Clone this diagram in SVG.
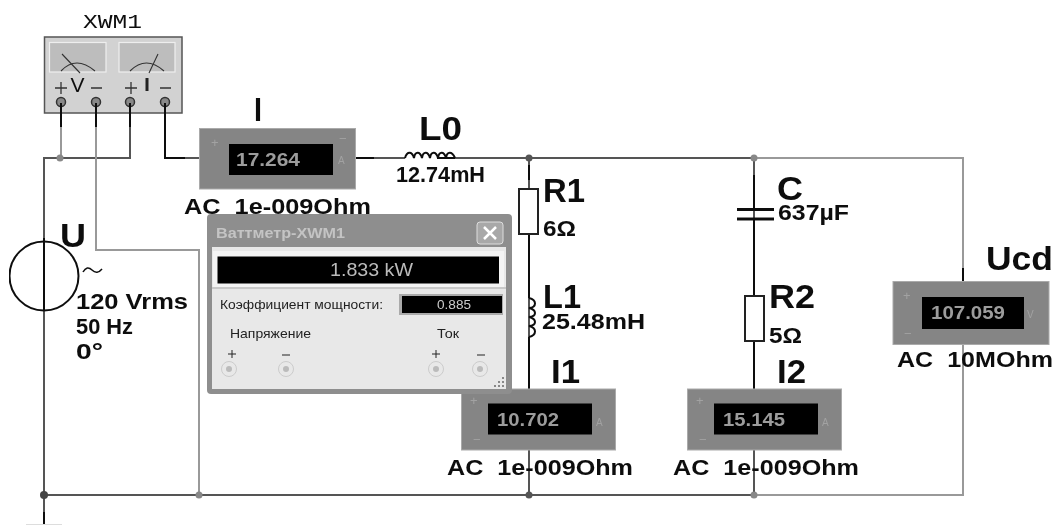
<svg xmlns="http://www.w3.org/2000/svg" width="1058" height="525" viewBox="0 0 1058 525">
<style>
text{font-family:"Liberation Sans",Arial,sans-serif;fill:#111;white-space:pre}
.w{fill:none;stroke:#555;stroke-width:2}
.k{fill:none;stroke:#111;stroke-width:2}
.g{fill:none;stroke:#999;stroke-width:2}
.b{font-weight:bold;font-size:21.500px}
.n{font-weight:bold;font-size:33px}
.m{fill:#858585;stroke:#aaa;stroke-width:1}
.d{fill:#000}
.v{font-size:18.500px;fill:#9c9c9c;font-weight:bold}
.s{font-size:13px;fill:#a2a2a2}
.u{font-size:13.500px;fill:#222}
</style>
<defs><filter id="soft" x="0" y="0" width="100%" height="100%"><feGaussianBlur stdDeviation="0.45"/></filter></defs>
<rect width="1058" height="525" fill="#fff"/>
<g filter="url(#soft)">
<g id="XWM1">
<text x="83" y="28" textLength="59" lengthAdjust="spacingAndGlyphs" style="font-family:'Liberation Mono',monospace;font-size:20px">XWM1</text>
<rect x="44.500" y="37" width="137.500" height="76" fill="#d2d2d2" stroke="#555" stroke-width="1.500"/>
<rect x="49.500" y="42.500" width="56.500" height="29.500" fill="#bdbdbd" stroke="#eee" stroke-width="1.200"/>
<rect x="119" y="42.500" width="56" height="29.500" fill="#bdbdbd" stroke="#eee" stroke-width="1.200"/>
<path d="M61 71Q76 55 95 71M130 71Q146 55 164 71M62 54L80 73M158 54L149 73" fill="none" stroke="#333" stroke-width="1.100"/>
<text x="77.500" y="92" text-anchor="middle" style="font-size:21px">V</text>
<path d="M55 88H67M61 82V94M91 88H102M160 88H171M125 88H137M131 82V94" stroke="#333" stroke-width="1.300"/>
<path d="M147 78V91" stroke="#222" stroke-width="3"/>
<g fill="#888" stroke="#333" stroke-width="1.500"><circle cx="61" cy="102" r="4.500"/><circle cx="96" cy="102" r="4.500"/><circle cx="130" cy="102" r="4.500"/><circle cx="165" cy="102" r="4.500"/></g>
</g>
<g id="connectors">
<path class="w" d="M60 158H44V495M130 127V158H60M44 495H752M44 495V512M165 127V158H199M356 158H405M455 158H752M529 158V389M529 450V495M754 158V389M754 450V495"/>
<path class="k" d="M61 103V127M96 103V127M130 103V127M165 103V158H185M44 238V250M356 158H374M529 165V180M529 235V298M529 337V389M754 175V210M754 219V296M754 341V389M963 268V282M44 512V525M437 158H455"/>
<path class="g" d="M61 127V158M96 127V250H199V495M752 158H963V268M963 345V495H752"/>
<path d="M26 524.500H62" stroke="#ddd" stroke-width="1"/>
<circle cx="60" cy="158" r="3.500" fill="#888"/>
<circle cx="44" cy="495" r="4" fill="#444"/>
<circle cx="199" cy="495" r="3.500" fill="#888"/>
<circle cx="529" cy="158" r="3.500" fill="#555"/>
<circle cx="754" cy="158" r="3.500" fill="#888"/>
<circle cx="529" cy="495" r="3.500" fill="#555"/>
<circle cx="754" cy="495" r="3.500" fill="#888"/>
</g>
<g id="I">
<rect class="m" x="199.500" y="128.500" width="156" height="60.500"/>
<rect class="d" x="229" y="144" width="104" height="31"/>
<text class="v" x="236" y="166" textLength="64" lengthAdjust="spacingAndGlyphs">17.264</text>
<text class="s" x="211" y="147">+</text><text class="s" x="339" y="143">−</text><text class="s" x="338" y="164" style="font-size:10px">A</text>
<text class="n" x="254" y="121" textLength="8" lengthAdjust="spacingAndGlyphs">I</text>
<text class="b" x="184" y="214" textLength="187" lengthAdjust="spacingAndGlyphs">AC  1e-009Ohm</text>
</g>
<g id="L0">
<path class="k" d="M405 158C407 151 412 151 414 158C415 151 420 151 422 158C423 151 428 151 430 158C431 151 436 151 438 158C439 151 444 151 446 158C447 151 452 151 455 158" stroke-width="1.500"/>
<text class="n" x="419" y="140" textLength="43" lengthAdjust="spacingAndGlyphs">L0</text>
<text class="b" x="396" y="182" textLength="89" lengthAdjust="spacingAndGlyphs">12.74mH</text>
</g>
<g id="U">
<circle cx="44" cy="276" r="34.500" fill="#fff" stroke="#111" stroke-width="2"/>
<path class="k" d="M44 241V311" stroke-width="2"/>
<path d="M83 272Q87 265 92 270T102 269" fill="none" stroke="#111" stroke-width="1.500"/>
<text class="n" x="60" y="247" textLength="26" lengthAdjust="spacingAndGlyphs">U</text>
<text class="b" x="76" y="309" textLength="112" lengthAdjust="spacingAndGlyphs">120 Vrms</text>
<text class="b" x="76" y="334" textLength="57" lengthAdjust="spacingAndGlyphs">50 Hz</text>
<text class="b" x="76" y="359" textLength="27" lengthAdjust="spacingAndGlyphs">0°</text>
</g>
<g id="R1">
<rect x="519" y="189" width="19" height="45" fill="#fff" stroke="#222" stroke-width="2"/>
<text class="n" x="543" y="202" textLength="42" lengthAdjust="spacingAndGlyphs">R1</text>
<text class="b" x="543" y="236" textLength="33" lengthAdjust="spacingAndGlyphs">6Ω</text>
</g>
<g id="L1">
<path class="k" stroke-width="1.500" d="M529 298C537 300 537 307 529 308C537 310 537 316 529 317C537 319 537 325 529 326C537 328 537 335 529 337"/>
<text class="n" x="543" y="308" textLength="38" lengthAdjust="spacingAndGlyphs">L1</text>
<text class="b" x="542" y="329" textLength="103" lengthAdjust="spacingAndGlyphs">25.48mH</text>
</g>
<g id="C">
<path d="M737 209.500H774M737 219H774" stroke="#111" stroke-width="3"/>
<text class="n" x="777" y="200" textLength="26" lengthAdjust="spacingAndGlyphs">C</text>
<text class="b" x="778" y="220" textLength="71" lengthAdjust="spacingAndGlyphs">637µF</text>
</g>
<g id="R2">
<rect x="745" y="296" width="19" height="45" fill="#fff" stroke="#222" stroke-width="2"/>
<text class="n" x="769" y="308" textLength="46" lengthAdjust="spacingAndGlyphs">R2</text>
<text class="b" x="769" y="343" textLength="33" lengthAdjust="spacingAndGlyphs">5Ω</text>
</g>
<g id="I1">
<rect class="m" x="461.500" y="389" width="154" height="61"/>
<rect class="d" x="488" y="403.500" width="104" height="31"/>
<text class="v" x="497" y="426" textLength="62" lengthAdjust="spacingAndGlyphs">10.702</text>
<text class="s" x="470" y="405">+</text><text class="s" x="473" y="444">−</text><text class="s" x="596" y="426" style="font-size:10px">A</text>
<text class="n" x="551" y="383" textLength="29" lengthAdjust="spacingAndGlyphs">I1</text>
<text class="b" x="447" y="475" textLength="186" lengthAdjust="spacingAndGlyphs">AC  1e-009Ohm</text>
</g>
<g id="I2">
<rect class="m" x="687.500" y="389" width="154" height="61"/>
<rect class="d" x="714" y="403.500" width="104" height="31"/>
<text class="v" x="723" y="426" textLength="62" lengthAdjust="spacingAndGlyphs">15.145</text>
<text class="s" x="696" y="405">+</text><text class="s" x="699" y="444">−</text><text class="s" x="822" y="426" style="font-size:10px">A</text>
<text class="n" x="777" y="383" textLength="29" lengthAdjust="spacingAndGlyphs">I2</text>
<text class="b" x="673" y="475" textLength="186" lengthAdjust="spacingAndGlyphs">AC  1e-009Ohm</text>
</g>
<g id="Ucd">
<rect class="m" x="893" y="281.500" width="156" height="63"/>
<rect class="d" x="922" y="297" width="102" height="32"/>
<text class="v" x="931" y="319" textLength="74" lengthAdjust="spacingAndGlyphs">107.059</text>
<text class="s" x="903" y="300">+</text><text class="s" x="904" y="338">−</text><text class="s" x="1027" y="318" style="font-size:10px">V</text>
<text class="n" x="986" y="270" textLength="67" lengthAdjust="spacingAndGlyphs">Ucd</text>
<text class="b" x="897" y="367" textLength="156" lengthAdjust="spacingAndGlyphs">AC  10MOhm</text>
</g>
<g id="Wattmeter">
<rect x="207" y="214" width="305" height="180" rx="4" fill="#8e8e8e"/>
<rect x="212" y="247" width="294" height="142" fill="#e8e8e8"/>
<text x="216" y="238" textLength="129" lengthAdjust="spacingAndGlyphs" style="font-size:14px;font-weight:bold;fill:#c4c4c4">Ваттметр-XWM1</text>
<rect x="477" y="222" width="26" height="22" rx="3" fill="#a8a8a8" stroke="#ddd" stroke-width="1"/>
<path d="M484 227L496 239M496 227L484 239" stroke="#fff" stroke-width="2.500"/>
<rect x="213" y="251" width="291" height="36" fill="#f4f4f4"/>
<path d="M212 288H506" stroke="#aaa" stroke-width="1"/>
<rect x="217.500" y="256.500" width="281.500" height="27" fill="#000"/>
<text x="330" y="276" textLength="83" lengthAdjust="spacingAndGlyphs" style="font-size:19px;fill:#bbb">1.833 kW</text>
<rect x="399" y="294" width="104" height="21" fill="#aaa"/>
<rect x="402" y="296" width="100" height="17" fill="#000"/>
<text x="437" y="309" textLength="34" lengthAdjust="spacingAndGlyphs" style="font-size:13px;fill:#ccc">0.885</text>
<text class="u" x="220" y="309" textLength="163" lengthAdjust="spacingAndGlyphs">Коэффициент мощности:</text>
<text class="u" x="230" y="338" textLength="81" lengthAdjust="spacingAndGlyphs">Напряжение</text>
<text class="u" x="437" y="338" textLength="22" lengthAdjust="spacingAndGlyphs">Ток</text>
<path d="M228 354H236M232 350V358M282 355H290M432 354H440M436 350V358M477 355H485" stroke="#222" stroke-width="1"/>
<g fill="#e8e8e8" stroke="#ccc" stroke-width="1"><circle cx="229" cy="369" r="7.500"/><circle cx="286" cy="369" r="7.500"/><circle cx="436" cy="369" r="7.500"/><circle cx="480" cy="369" r="7.500"/></g>
<g fill="#bbb"><circle cx="229" cy="369" r="3"/><circle cx="286" cy="369" r="3"/><circle cx="436" cy="369" r="3"/><circle cx="480" cy="369" r="3"/></g>
<path d="M502 378h2M498 382h2M502 382h2M494 386h2M498 386h2M502 386h2" stroke="#888" stroke-width="2"/>
</g>
</g>
</svg>
